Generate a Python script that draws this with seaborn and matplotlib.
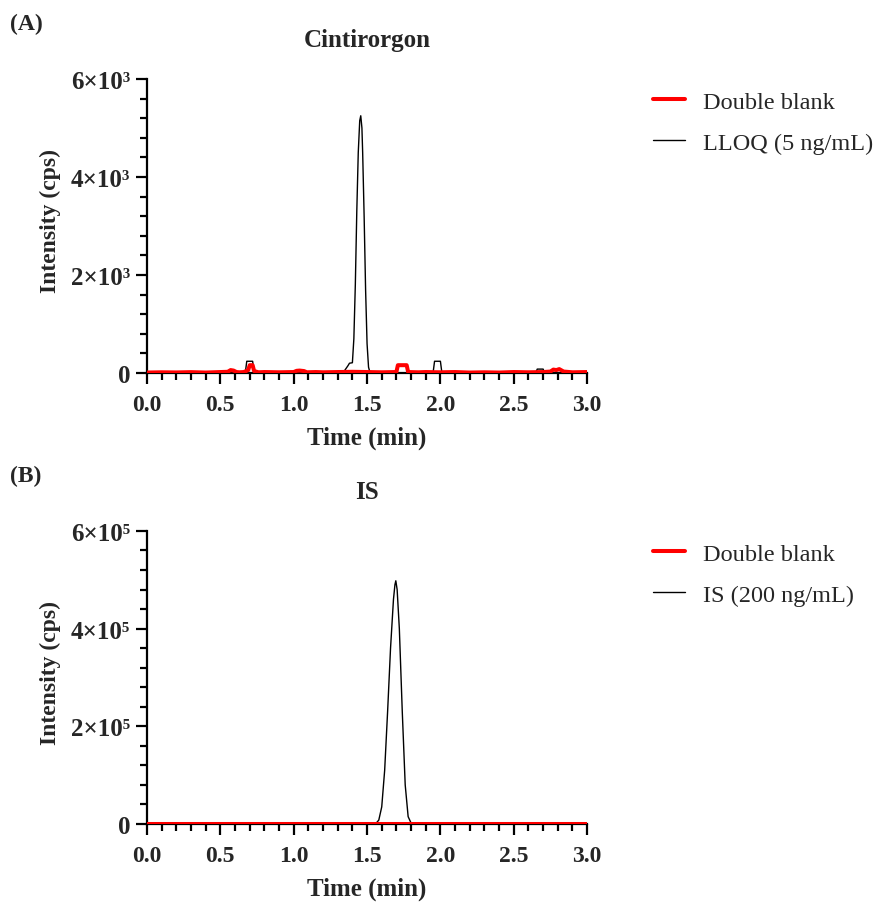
import numpy as np
import pandas as pd
import matplotlib
matplotlib.use("Agg")
import matplotlib.pyplot as plt
import seaborn as sns
from matplotlib.ticker import MultipleLocator, FixedLocator

sns.set_style("ticks")
plt.rcParams['font.family'] = ['Liberation Serif', 'DejaVu Serif']

# (A) Cintirorgon - double blank trace
blank_a_time = [0.00, 0.10, 0.20, 0.30, 0.40, 0.50, 0.55, 0.57, 0.59, 0.61, 0.63, 0.66, 0.69,
                0.70, 0.72, 0.73, 0.76, 0.80, 0.90, 1.00, 1.02, 1.04, 1.07, 1.09, 1.15, 1.20,
                1.30, 1.40, 1.50, 1.60, 1.70, 1.71, 1.77, 1.78, 1.85, 1.90, 2.00, 2.10, 2.20,
                2.30, 2.40, 2.50, 2.60, 2.70, 2.75, 2.77, 2.79, 2.81, 2.84, 2.90, 3.00]
blank_a_int = [10, 15, 12, 18, 10, 20, 25, 60, 50, 20, 15, 20, 60,
               160, 160, 40, 15, 20, 15, 20, 45, 50, 40, 15, 20, 15,
               20, 25, 20, 15, 20, 160, 160, 20, 15, 20, 15, 20, 10,
               15, 10, 20, 15, 20, 30, 70, 60, 80, 30, 15, 20]

# (A) LLOQ trace
lloq_time = [0.00, 0.30, 0.37, 0.40, 0.60, 0.67, 0.68, 0.72, 0.73, 0.90, 1.20, 1.34, 1.37,
             1.38, 1.40, 1.41, 1.42, 1.43, 1.44, 1.45, 1.457, 1.465, 1.47, 1.48, 1.49,
             1.50, 1.51, 1.52, 1.70, 1.95, 1.96, 2.00, 2.01, 2.30, 2.65, 2.66, 2.70, 2.71, 3.00]
lloq_int = [5, 5, 20, 5, 5, 5, 240, 240, 5, 5, 5, 20, 150,
            200, 210, 700, 1800, 3300, 4500, 5150, 5250, 5000, 4500, 3200, 1700,
            600, 120, 10, 5, 5, 240, 240, 5, 5, 5, 80, 80, 5, 5]

# (B) IS - double blank trace
blank_b_time = [0.0, 0.5, 1.0, 1.5, 2.0, 2.5, 3.0]
blank_b_int = [500, 500, 500, 500, 500, 500, 500]

# (B) IS trace
is_time = [0.00, 0.50, 1.00, 1.50, 1.56, 1.58, 1.60, 1.62, 1.64, 1.66, 1.68, 1.69, 1.696,
           1.705, 1.72, 1.74, 1.76, 1.78, 1.80, 1.82, 2.00, 2.50, 3.00]
is_int = [0, 0, 0, 0, 1000, 8000, 35000, 110000, 230000, 360000, 460000, 490000, 498000,
          480000, 400000, 230000, 80000, 15000, 2000, 0, 0, 0, 0]

x_ticks = [0.0, 0.5, 1.0, 1.5, 2.0, 2.5, 3.0]

panels = [
    dict(tag="(A)", title="Cintirorgon", exp=3, scale=1e3,
         blank=(blank_a_time, blank_a_int), sample=(lloq_time, lloq_int),
         sample_label="LLOQ (5 ng/mL)"),
    dict(tag="(B)", title="IS", exp=5, scale=1e5,
         blank=(blank_b_time, blank_b_int), sample=(is_time, is_int),
         sample_label="IS (200 ng/mL)"),
]

sup = {3: "\u00b3", 5: "\u2075"}

fig = plt.figure(figsize=(8.75, 9.03), dpi=100)
rects = [[0.168, 0.5858, 0.503, 0.3256], [0.168, 0.0864, 0.503, 0.3245]]

for p, rect in zip(panels, rects):
    ax = fig.add_axes(rect)
    df_blank = pd.DataFrame({"time": p["blank"][0], "intensity": p["blank"][1]})
    df_sample = pd.DataFrame({"time": p["sample"][0], "intensity": p["sample"][1]})
    sns.lineplot(data=df_blank, x="time", y="intensity", color="#ff0000", lw=2.9,
                 ax=ax, label="Double blank", zorder=3)
    sns.lineplot(data=df_sample, x="time", y="intensity", color="black", lw=1.0,
                 ax=ax, label=p["sample_label"], zorder=2)

    ax.set_xlim(0, 3.0)
    ax.set_ylim(0, 6 * p["scale"])
    ax.xaxis.set_major_locator(FixedLocator(x_ticks))
    ax.xaxis.set_minor_locator(MultipleLocator(0.1))
    yt = [0, 2 * p["scale"], 4 * p["scale"], 6 * p["scale"]]
    ax.yaxis.set_major_locator(FixedLocator(yt))
    ax.yaxis.set_minor_locator(MultipleLocator(0.4 * p["scale"]))
    ax.set_xticklabels(["%.1f" % v for v in x_ticks], fontsize=17, fontweight="bold")
    ax.set_yticklabels(["0"] + ["%d\u00d710%s" % (m, sup[p["exp"]]) for m in (2, 4, 6)],
                       fontsize=18, fontweight="bold")

    sns.despine(ax=ax)
    for s in ("left", "bottom"):
        ax.spines[s].set_linewidth(1.6)
        ax.spines[s].set_color("black")
    ax.tick_params(which="major", length=8, width=1.6, color="black", pad=4)
    ax.tick_params(which="minor", length=5, width=1.6, color="black")
    ax.tick_params(axis="x", which="major", pad=7)

    ax.set_xlabel("Time (min)", fontsize=18, fontweight="bold", labelpad=8)
    ax.set_ylabel("Intensity (cps)", fontsize=17, fontweight="bold")
    ax.yaxis.set_label_coords(-0.195, 0.52)
    ax.set_title(p["title"], fontsize=18, fontweight="bold", pad=24)

    ax.legend(loc="upper left", bbox_to_anchor=(1.15, 0.96), frameon=False,
              fontsize=17.5, handlelength=1.32, handletextpad=0.74, labelspacing=0.78,
              borderpad=0, borderaxespad=0)

    ax.text(-0.312, 1.19, p["tag"], transform=ax.transAxes, fontsize=17,
            fontweight="bold", ha="left", va="center")

fig.savefig("out.png", dpi=100)
